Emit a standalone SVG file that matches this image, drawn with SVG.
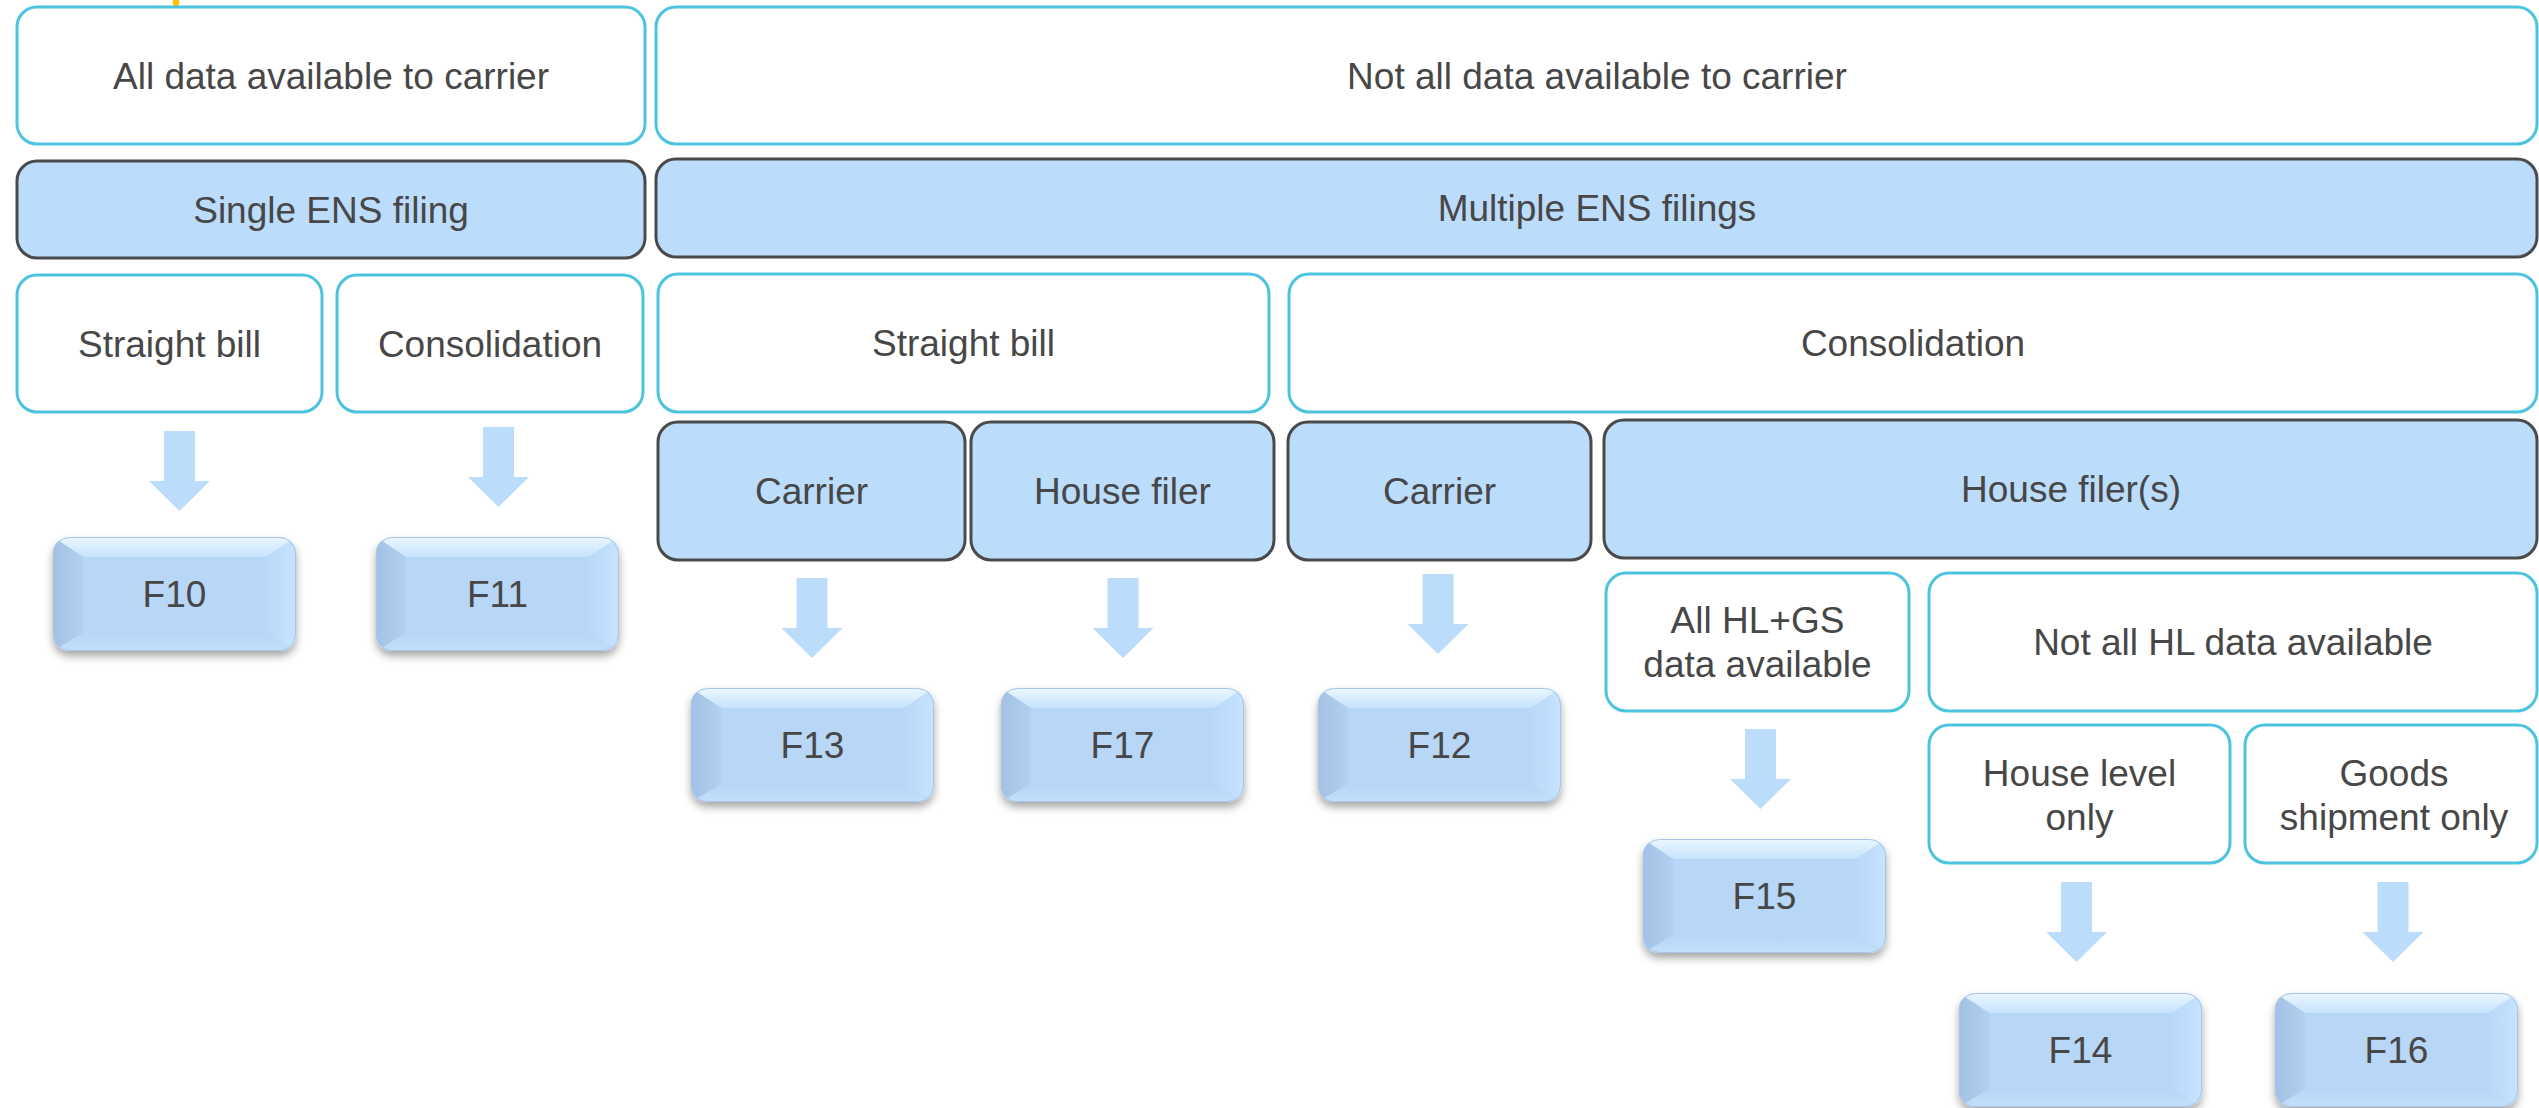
<svg xmlns="http://www.w3.org/2000/svg" xmlns:xlink="http://www.w3.org/1999/xlink" width="2539" height="1108" viewBox="0 0 2539 1108">
<style>
.w{fill:#ffffff;stroke:#4DC4DF;stroke-width:3}
.b{fill:#BBDCFB;stroke:#4A4A4A;stroke-width:3}
.t{font-family:"Liberation Sans",Arial,sans-serif;font-size:37px;fill:#474747;text-anchor:middle}
.arr{fill:#BBDCFB}
</style>
<defs>
<filter id="sh" x="-10%" y="-10%" width="120%" height="135%">
<feDropShadow dx="0" dy="5" stdDeviation="4" flood-color="#000" flood-opacity="0.35"/>
</filter>
<linearGradient id="gTop" x1="0" y1="0" x2="0" y2="1">
<stop offset="0" stop-color="#EAF7FF"/>
<stop offset="1" stop-color="#C6E3FC"/>
</linearGradient>
<linearGradient id="gLeft" x1="0" y1="0" x2="1" y2="0">
<stop offset="0" stop-color="#A2C1E4"/>
<stop offset="1" stop-color="#B2D0F0"/>
</linearGradient>
<linearGradient id="gRight" x1="0" y1="0" x2="1" y2="0">
<stop offset="0" stop-color="#BAD8F8"/>
<stop offset="1" stop-color="#C6E3FF"/>
</linearGradient>
<linearGradient id="gBot" x1="0" y1="0" x2="0" y2="1">
<stop offset="0" stop-color="#B8D6F5"/>
<stop offset="1" stop-color="#C2DFFB"/>
</linearGradient>
<clipPath id="fclip"><rect x="0" y="0" width="243" height="114" rx="16"/></clipPath>
<g id="fbox">
<rect x="0" y="0" width="243" height="114" rx="16" fill="#B8D6F6" filter="url(#sh)"/>
<g clip-path="url(#fclip)">
<polygon points="0,0 243,0 213,20 30,20" fill="url(#gTop)"/>
<polygon points="0,0 30,20 30,96 0,114" fill="url(#gLeft)"/>
<polygon points="243,0 243,114 213,96 213,20" fill="url(#gRight)"/>
<polygon points="0,114 30,96 213,96 243,114" fill="url(#gBot)"/>
<rect x="30" y="20" width="183" height="76" fill="#B8D6F6"/>
</g>
<rect x="0.5" y="0.5" width="242" height="113" rx="16" fill="none" stroke="#A9C6E6" stroke-width="1"/>
</g>
<polygon id="arrow" points="-15.5,0 15.5,0 15.5,50 30.5,50 0,80 -30.5,50 -15.5,50"/>
</defs>

<rect x="173" y="0" width="6" height="6" fill="#FFC000"/>

<g id="n_all_data"><rect class="w" x="17" y="7" width="628" height="137" rx="20"/><text class="t" x="331" y="89">All data available to carrier</text></g>
<g id="n_not_all_data"><rect class="w" x="656" y="7" width="1881" height="137" rx="20"/><text class="t" x="1597" y="89">Not all data available to carrier</text></g>
<g id="n_single_ens"><rect class="b" x="17" y="161" width="628" height="97" rx="20"/><text class="t" x="331" y="223">Single ENS filing</text></g>
<g id="n_multi_ens"><rect class="b" x="656" y="159" width="1881" height="98" rx="20"/><text class="t" x="1597" y="221">Multiple ENS filings</text></g>
<g id="n_straight1"><rect class="w" x="17" y="275" width="305" height="137" rx="20"/><text class="t" x="169.5" y="357">Straight bill</text></g>
<g id="n_consol1"><rect class="w" x="337" y="275" width="306" height="137" rx="20"/><text class="t" x="490" y="357">Consolidation</text></g>
<g id="n_straight2"><rect class="w" x="658" y="274" width="611" height="138" rx="20"/><text class="t" x="963.5" y="356">Straight bill</text></g>
<g id="n_consol2"><rect class="w" x="1289" y="274" width="1248" height="138" rx="20"/><text class="t" x="1913" y="356">Consolidation</text></g>
<g id="n_carrier1"><rect class="b" x="658" y="422" width="307" height="138" rx="20"/><text class="t" x="811.5" y="504">Carrier</text></g>
<g id="n_housefiler"><rect class="b" x="971" y="422" width="303" height="138" rx="20"/><text class="t" x="1122.5" y="504">House filer</text></g>
<g id="n_carrier2"><rect class="b" x="1288" y="422" width="303" height="138" rx="20"/><text class="t" x="1439.5" y="504">Carrier</text></g>
<g id="n_housefilers"><rect class="b" x="1604" y="420" width="933" height="138" rx="20"/><text class="t" x="2071" y="502">House filer(s)</text></g>
<g id="n_allhlgs"><rect class="w" x="1606" y="573" width="303" height="138" rx="20"/><text class="t" x="1757.5" y="633">All HL+GS</text><text class="t" x="1757.5" y="677">data available</text></g>
<g id="n_notallhl"><rect class="w" x="1929" y="573" width="608" height="138" rx="20"/><text class="t" x="2233" y="655">Not all HL data available</text></g>
<g id="n_houselevel"><rect class="w" x="1929" y="725" width="301" height="138" rx="20"/><text class="t" x="2079.5" y="786">House level</text><text class="t" x="2079.5" y="830">only</text></g>
<g id="n_goods"><rect class="w" x="2245" y="725" width="292" height="138" rx="20"/><text class="t" x="2394" y="786">Goods</text><text class="t" x="2394" y="830">shipment only</text></g>

<g id="connectors" class="arr">
<use xlink:href="#arrow" x="179.5" y="431"/>
<use xlink:href="#arrow" x="498.5" y="427"/>
<use xlink:href="#arrow" x="812" y="578"/>
<use xlink:href="#arrow" x="1123" y="578"/>
<use xlink:href="#arrow" x="1438" y="574"/>
<use xlink:href="#arrow" x="1760.5" y="729"/>
<use xlink:href="#arrow" x="2076.5" y="882"/>
<use xlink:href="#arrow" x="2393" y="882"/>
</g>

<g id="n_f10"><use xlink:href="#fbox" x="53" y="537"/><text class="t" x="174.5" y="607">F10</text></g>
<g id="n_f11"><use xlink:href="#fbox" x="376" y="537"/><text class="t" x="497.5" y="607">F11</text></g>
<g id="n_f13"><use xlink:href="#fbox" x="691" y="688"/><text class="t" x="812.5" y="758">F13</text></g>
<g id="n_f17"><use xlink:href="#fbox" x="1001" y="688"/><text class="t" x="1122.5" y="758">F17</text></g>
<g id="n_f12"><use xlink:href="#fbox" x="1318" y="688"/><text class="t" x="1439.5" y="758">F12</text></g>
<g id="n_f15"><use xlink:href="#fbox" x="1643" y="839"/><text class="t" x="1764.5" y="909">F15</text></g>
<g id="n_f14"><use xlink:href="#fbox" x="1959" y="993"/><text class="t" x="2080.5" y="1063">F14</text></g>
<g id="n_f16"><use xlink:href="#fbox" x="2275" y="993"/><text class="t" x="2396.5" y="1063">F16</text></g>
</svg>
